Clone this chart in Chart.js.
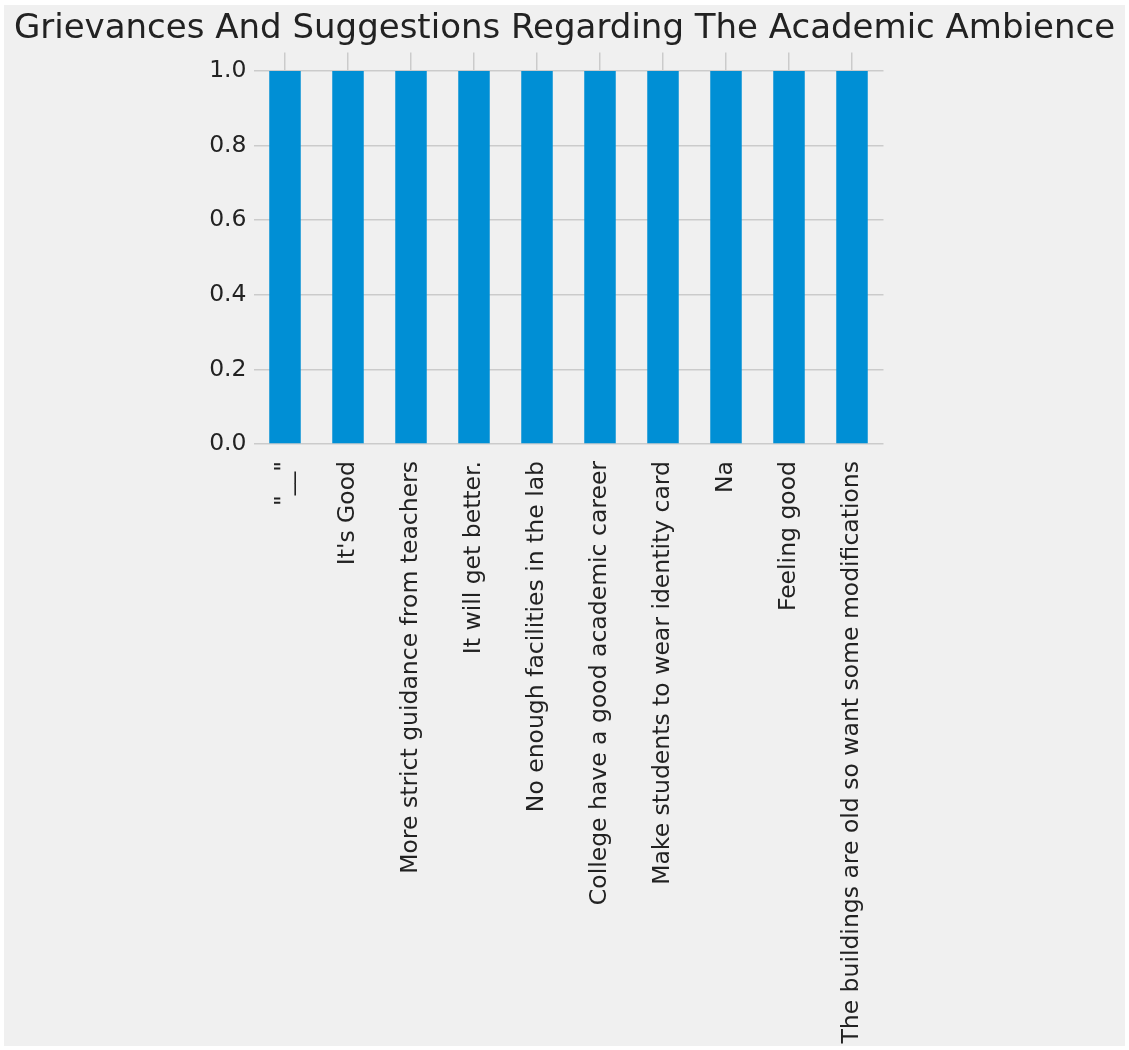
<!DOCTYPE html>
<html>
<head>
<meta charset="utf-8">
<script src="https://cdn.jsdelivr.net/npm/chart.js@4"></script>
<style>
  html, body { margin: 0; padding: 0; background: #ffffff; }
  #wrap { position: absolute; left: 4px; top: 5px; width: 1121px; height: 1041px; background: #f0f0f0; }
</style>
</head>
<body>
<div id="wrap"><canvas id="grievanceChart"></canvas></div>
<script>
// datos
var categories = [
    '"__"',
    "It's Good",
    "More strict guidance from teachers",
    "It will get better.",
    "No enough facilities in the lab",
    "College have a good academic career",
    "Make students to wear identity card",
    "Na",
    "Feeling good",
    "The buildings are old so want some modifications"
];
var counts = [1, 1, 1, 1, 1, 1, 1, 1, 1, 1];
var yTicks = [0.0, 0.2, 0.4, 0.6, 0.8, 1.0];

document.addEventListener("DOMContentLoaded", function () {
    var ctx = document.getElementById('grievanceChart').getContext('2d');

    new Chart(ctx, {
        type: 'bar',
        data: {
            labels: categories,
            datasets: [{
                data: counts,
                backgroundColor: '#008fd5',
                borderWidth: 0,
                barPercentage: 0.5,
                categoryPercentage: 1.0
            }]
        },
        options: {
            responsive: true,
            maintainAspectRatio: false,
            animation: false,
            layout: { padding: 0 },
            plugins: {
                legend: { display: false },
                tooltip: { enabled: false },
                title: {
                    display: true,
                    text: 'Grievances And Suggestions Regarding The Academic Ambience',
                    color: '#222222',
                    font: { family: 'DejaVu Sans', size: 34, weight: 'normal', lineHeight: 1.2 },
                    padding: { top: 4, bottom: 2.6 }
                }
            },
            scales: {
                x: {
                    offset: true,
                    border: { display: false },
                    grid: { offset: false, color: '#cbcbcb', lineWidth: 1.5, drawTicks: false },
                    // las etiquetas largas necesitan mas de la mitad del alto
                    afterFit: function (scale) { scale.height = 602; },
                    ticks: {
                        color: '#222222',
                        font: { family: 'DejaVu Sans', size: 23.5 },
                        maxRotation: 90,
                        minRotation: 90,
                        autoSkip: false,
                        padding: 17
                    }
                },
                y: {
                    min: 0,
                    max: 1.05,
                    border: { display: false },
                    grid: { color: '#cbcbcb', lineWidth: 1.5, drawTicks: false },
                    afterBuildTicks: function (scale) {
                        scale.ticks = yTicks.map(function (v) { return { value: v }; });
                    },
                    afterFit: function (scale) { scale.width = 249.5; },
                    ticks: {
                        color: '#222222',
                        font: { family: 'DejaVu Sans', size: 23.5 },
                        padding: 7,
                        callback: function (v) { return Number(v).toFixed(1); }
                    }
                },
                // eje vacio solo para dejar el margen derecho
                spacer: {
                    type: 'linear',
                    position: 'right',
                    display: true,
                    border: { display: false },
                    grid: { display: false },
                    ticks: { display: false },
                    afterFit: function (scale) { scale.width = 241.5; }
                }
            }
        }
    });
});
</script>
</body>
</html>
